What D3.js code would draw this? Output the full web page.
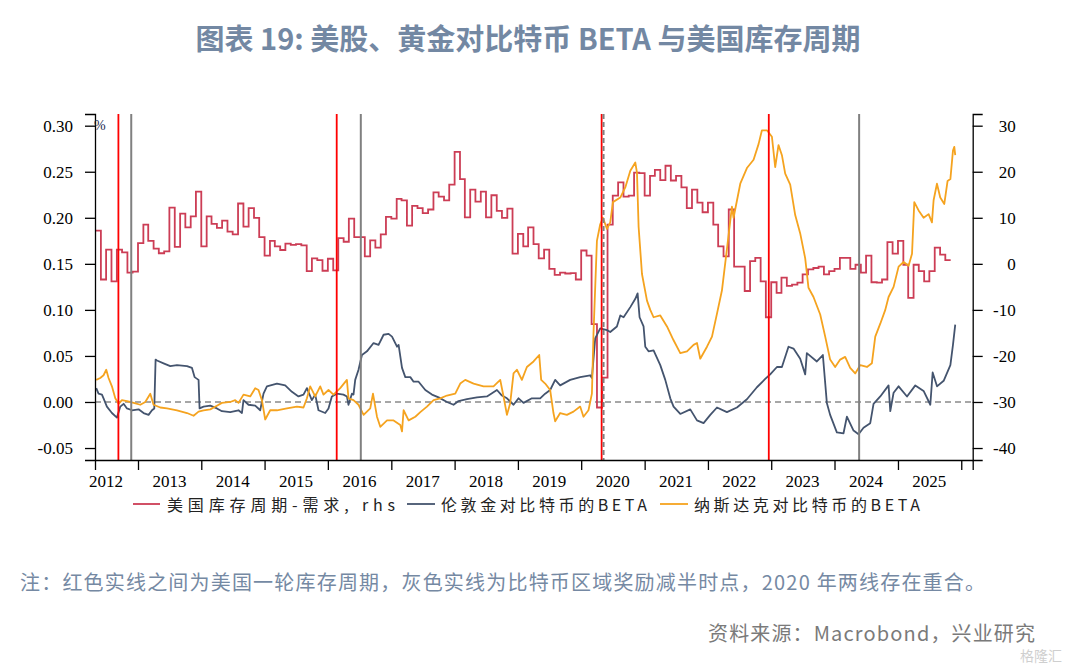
<!DOCTYPE html>
<html>
<head>
<meta charset="utf-8">
<script src="https://cdn.jsdelivr.net/npm/d3@7"></script>
<style>
  body { margin: 0; background: #fff; }
  text { font-family: "Noto Sans CJK SC", "Noto Sans", sans-serif; }
  .tick text, .year-label { font-family: "Liberation Serif", "DejaVu Serif", serif; font-size: 17px; fill: #000; }
</style>
</head>
<body>
<div id="chart"></div>
<script>
'use strict'

// US inventory cycle - demand (rhs), monthly, starting May 2012
const inventoryStart = "2012-05-01";
const inventoryDemand = [
    7.2, -3.4, 3.1, -3.8, 3.1, 2.5, -1.9, -1.7,
    4.5, 8.5, 5.0, 3.3, 2.3, 2.7, 12.2, 3.7, 10.9, 7.9, 10.3, 15.7,
    3.8, 10.3, 8.7, 7.8, 9.4, 7.0, 6.4, 13.1, 8.1, 12.1, 10.0, 5.8,
    1.8, 5.0, 3.8, 3.0, 4.4, 4.1, 4.3, 4.0, -1.6, 1.2, 0.8, -1.5,
    1.1, -1.4, 5.6, 4.8, 9.8, 5.8, 5.8, 1.6, 5.1, 3.5, 6.4, 10.2,
    9.8, 14.1, 13.8, 8.3, 12.6, 12.1, 11.0, 11.8, 15.5, 14.6, 13.8, 17.2,
    24.3, 18.4, 10.1, 16.1, 13.5, 15.7, 10.1, 14.9, 11.5, 10.0, 12.0, 2.2,
    6.5, 3.8, 7.9, 4.3, 1.2, 3.1, -1.1, -2.4, -1.9, -2.1, -2.0, -3.4,
    2.9, 1.8, -13.1, -31.2, -24.7, 8.5, 14.8, 17.7, 14.6, 14.8, 19.8, 19.7,
    14.8, 19.1, 20.4, 18.2, 21.3, 18.1, 19.1, 16.6, 12.1, 16.1, 13.3, 11.2,
    13.3, 8.5, 3.8, 1.6, 11.8, -0.6, -0.6, -5.9, 0.6, 1.3, -3.8, -11.6,
    -4.0, -6.3, -3.0, -4.8, -4.5, -4.1, -2.3, -1.2, -0.9, -0.6, -2.3, -1.6,
    -1.1, 1.3, 1.3, -1.1, -0.2, -1.9, 1.8, -4.0, -4.1, -3.4, 4.7, 2.2,
    5.0, -0.2, -7.4, -0.2, -1.6, -3.8, -1.6, 3.5, 2.0, 0.8
];

// London gold beta vs bitcoin: [decimal year, beta]
const goldBeta = [
    [2012.342, 0.015], [2012.378, 0.009], [2012.432, 0.008], [2012.457, 0.004], [2012.51, -0.005],
    [2012.589, -0.012], [2012.668, -0.017], [2012.721, -0.005], [2012.773, -0.002], [2012.826, -0.007],
    [2012.905, -0.009], [2013.009, -0.008], [2013.088, -0.012], [2013.167, -0.014], [2013.221, -0.009],
    [2013.257, -0.007], [2013.278, 0.046], [2013.30, 0.045], [2013.404, 0.042], [2013.51, 0.039],
    [2013.616, 0.040], [2013.774, 0.039], [2013.853, 0.037], [2013.894, 0.027], [2013.957, 0.024],
    [2013.973, -0.007], [2014.036, -0.005], [2014.142, -0.004], [2014.247, -0.007], [2014.326, -0.010],
    [2014.457, -0.011], [2014.588, -0.009], [2014.642, -0.012], [2014.667, 0.002], [2014.746, -0.003],
    [2014.852, -0.004], [2014.931, -0.009], [2014.983, 0.009], [2015.037, 0.017], [2015.195, 0.020],
    [2015.326, 0.018], [2015.432, 0.011], [2015.536, 0.006], [2015.615, 0.008], [2015.669, 0.015],
    [2015.747, 0.002], [2015.80, 0.008], [2015.852, -0.009], [2015.958, -0.012], [2016.01, -0.007],
    [2016.063, 0.006], [2016.142, 0.009], [2016.246, 0.008], [2016.30, 0.006], [2016.325, -0.003],
    [2016.379, 0.009], [2016.404, 0.008], [2016.431, 0.024], [2016.483, 0.035], [2016.537, 0.051],
    [2016.616, 0.055], [2016.72, 0.064], [2016.799, 0.062], [2016.878, 0.073], [2016.957, 0.074],
    [2017.011, 0.071], [2017.09, 0.060], [2017.115, 0.062], [2017.169, 0.037], [2017.221, 0.027],
    [2017.30, 0.027], [2017.352, 0.022], [2017.431, 0.022], [2017.537, 0.013], [2017.642, 0.008],
    [2017.747, 0.005], [2017.879, 0.000], [2017.983, -0.003], [2018.062, 0.001], [2018.195, 0.003],
    [2018.353, 0.005], [2018.511, 0.006], [2018.669, 0.013], [2018.748, 0.007], [2018.827, 0.004],
    [2018.931, -0.003], [2019.01, 0.004], [2019.089, -0.001], [2019.221, 0.004], [2019.352, 0.004],
    [2019.431, 0.009], [2019.51, 0.013], [2019.589, 0.024], [2019.668, 0.018], [2019.826, 0.024],
    [2019.984, 0.027], [2020.142, 0.029], [2020.169, 0.026], [2020.221, 0.069], [2020.30, 0.080],
    [2020.406, 0.078], [2020.458, 0.076], [2020.563, 0.082], [2020.616, 0.094], [2020.668, 0.092],
    [2020.774, 0.103], [2020.853, 0.112], [2020.889, 0.118], [2020.92, 0.092], [2020.983, 0.082],
    [2021.01, 0.060], [2021.062, 0.055], [2021.141, 0.056], [2021.247, 0.040], [2021.326, 0.024],
    [2021.405, 0.004], [2021.457, -0.005], [2021.563, -0.013], [2021.721, -0.008], [2021.827, -0.020],
    [2021.931, -0.023], [2022.037, -0.014], [2022.143, -0.006], [2022.30, -0.011], [2022.458, -0.006],
    [2022.616, 0.003], [2022.774, 0.016], [2022.905, 0.025], [2022.984, 0.030], [2023.09, 0.038],
    [2023.169, 0.038], [2023.273, 0.060], [2023.352, 0.058], [2023.458, 0.047], [2023.537, 0.030],
    [2023.563, 0.053], [2023.721, 0.044], [2023.816, 0.051], [2023.879, -0.001], [2023.931, -0.014],
    [2024.037, -0.033], [2024.142, -0.034], [2024.195, -0.016], [2024.30, -0.031], [2024.379, -0.035],
    [2024.457, -0.028], [2024.563, -0.023], [2024.615, -0.002], [2024.721, 0.006], [2024.852, 0.018],
    [2024.879, -0.010], [2024.931, 0.010], [2025.01, 0.017], [2025.143, 0.006], [2025.274, 0.018],
    [2025.405, 0.012], [2025.511, -0.003], [2025.548, 0.032], [2025.617, 0.017], [2025.722, 0.023],
    [2025.828, 0.040], [2025.869, 0.062], [2025.905, 0.084]
];

// Nasdaq beta vs bitcoin: [decimal year, beta]
const nasdaqBeta = [
    [2012.342, 0.024], [2012.405, 0.026], [2012.457, 0.029], [2012.50, 0.035], [2012.536, 0.026],
    [2012.589, 0.017], [2012.642, 0.004], [2012.694, -0.002], [2012.747, 0.002], [2012.826, 0.001],
    [2012.931, -0.001], [2013.036, -0.003], [2013.115, 0.000], [2013.194, 0.009], [2013.246, -0.003],
    [2013.352, -0.006], [2013.458, -0.007], [2013.616, -0.009], [2013.774, -0.012], [2013.878, -0.015],
    [2013.957, -0.0105], [2014.036, -0.009], [2014.142, -0.008], [2014.247, -0.004], [2014.326, -0.001],
    [2014.457, 0.000], [2014.536, 0.002], [2014.588, -0.001], [2014.667, 0.008], [2014.773, 0.006],
    [2014.852, 0.015], [2014.904, 0.013], [2014.958, 0.002], [2015.01, -0.019], [2015.089, -0.009],
    [2015.195, -0.009], [2015.353, -0.007], [2015.511, -0.005], [2015.615, -0.006], [2015.669, 0.004],
    [2015.721, 0.017], [2015.80, 0.006], [2015.879, 0.017], [2015.931, 0.008], [2016.01, 0.013],
    [2016.089, 0.008], [2016.195, 0.015], [2016.30, 0.024], [2016.325, 0.004], [2016.404, 0.002],
    [2016.483, -0.003], [2016.563, -0.014], [2016.668, -0.007], [2016.711, 0.009], [2016.774, -0.016],
    [2016.826, -0.027], [2016.932, -0.020], [2017.036, -0.020], [2017.142, -0.025], [2017.169, -0.032],
    [2017.194, -0.009], [2017.273, -0.020], [2017.379, -0.016], [2017.458, -0.011], [2017.563, -0.005],
    [2017.668, 0.002], [2017.773, 0.004], [2017.879, 0.007], [2018.01, 0.009], [2018.089, 0.020],
    [2018.168, 0.024], [2018.30, 0.020], [2018.457, 0.017], [2018.615, 0.017], [2018.721, 0.024],
    [2018.773, 0.006], [2018.827, -0.014], [2018.879, -0.001], [2018.931, 0.031], [2018.984, 0.035],
    [2019.063, 0.024], [2019.142, 0.038], [2019.247, 0.044], [2019.337, 0.051], [2019.368, 0.024],
    [2019.431, 0.020], [2019.51, 0.013], [2019.562, -0.012], [2019.589, -0.021], [2019.668, -0.012],
    [2019.774, -0.014], [2019.878, -0.0105], [2019.984, -0.005], [2020.036, -0.016], [2020.115, -0.009],
    [2020.169, 0.009], [2020.194, 0.074], [2020.248, 0.175], [2020.30, 0.193], [2020.342, 0.200],
    [2020.406, 0.188], [2020.458, 0.195], [2020.50, 0.217], [2020.616, 0.222], [2020.695, 0.233],
    [2020.774, 0.251], [2020.853, 0.260], [2020.879, 0.249], [2020.905, 0.190], [2020.958, 0.139],
    [2021.037, 0.110], [2021.089, 0.100], [2021.141, 0.092], [2021.247, 0.094], [2021.353, 0.082],
    [2021.457, 0.067], [2021.563, 0.053], [2021.669, 0.055], [2021.773, 0.062], [2021.827, 0.064],
    [2021.879, 0.047], [2021.985, 0.060], [2022.064, 0.071], [2022.143, 0.096], [2022.221, 0.121],
    [2022.30, 0.166], [2022.379, 0.212], [2022.405, 0.200], [2022.511, 0.237], [2022.616, 0.254],
    [2022.721, 0.263], [2022.80, 0.280], [2022.853, 0.295], [2022.932, 0.295], [2023.011, 0.288],
    [2023.063, 0.255], [2023.115, 0.279], [2023.169, 0.268], [2023.221, 0.248], [2023.30, 0.236],
    [2023.379, 0.203], [2023.458, 0.183], [2023.537, 0.156], [2023.589, 0.124], [2023.668, 0.114],
    [2023.774, 0.095], [2023.853, 0.071], [2023.931, 0.046], [2024.01, 0.038], [2024.089, 0.046],
    [2024.168, 0.049], [2024.247, 0.037], [2024.326, 0.031], [2024.405, 0.040], [2024.511, 0.038],
    [2024.589, 0.042], [2024.642, 0.071], [2024.721, 0.085], [2024.80, 0.100], [2024.852, 0.114],
    [2024.931, 0.125], [2025.01, 0.147], [2025.089, 0.152], [2025.168, 0.148], [2025.222, 0.161],
    [2025.258, 0.217], [2025.326, 0.208], [2025.405, 0.200], [2025.484, 0.204], [2025.537, 0.195],
    [2025.563, 0.219], [2025.616, 0.237], [2025.668, 0.222], [2025.732, 0.215], [2025.784, 0.240],
    [2025.828, 0.242], [2025.869, 0.273], [2025.89, 0.277], [2025.905, 0.268]
];

// vertical markers: inventory cycle bounds (red) and bitcoin halvings (grey)
const cycleDates = ["2012-09-10", "2016-02-21", "2020-04-28", "2022-12-18"];
const halvingDates = ["2012-11-23", "2016-07-09", "2020-05-09", "2024-05-22"];

const yearLabels = ["2012", "2013", "2014", "2015", "2016", "2017", "2018",
    "2019", "2020", "2021", "2022", "2023", "2024", "2025"];
const leftTicks = [0.30, 0.25, 0.20, 0.15, 0.10, 0.05, 0.00, -0.05];
const rightTicks = [30, 20, 10, 0, -10, -20, -30, -40];

const legendItems = [
    { label: "美国库存周期-需求, rhs", color: "#cc3d55" },
    { label: "伦敦金对比特币的BETA", color: "#44546e" },
    { label: "纳斯达克对比特币的BETA", color: "#f5a31f" }
];

function fromDecimal(t) {
    const y = Math.floor(t);
    const a = new Date(y, 0, 1), b = new Date(y + 1, 0, 1);
    return new Date(+a + (t - y) * (b - a));
}

const width = 1067;
const height = 667;
const plot = { left: 95, right: 972.7, top: 114, bottom: 460 };

const svg = d3.select("#chart")
    .append("svg")
    .attr("width", width)
    .attr("height", height);

const x = d3.scaleTime()
    .domain([new Date(2012, 3, 28), new Date(2026, 2, 8)])
    .range([plot.left, plot.right]);

const yLeft = d3.scaleLinear()
    .domain([-0.063, 0.3127])
    .range([plot.bottom, plot.top]);

const yRight = d3.scaleLinear()
    .domain([-42.6, 32.54])
    .range([plot.bottom, plot.top]);

// Title
svg.append("text")
    .attr("x", 528)
    .attr("y", 50)
    .attr("text-anchor", "middle")
    .style("font-size", "29px")
    .style("font-weight", "bold")
    .style("fill", "#7388a3")
    .text("图表 19: 美股、黄金对比特币 BETA 与美国库存周期");

// zero reference line
svg.append("line")
    .attr("x1", plot.left)
    .attr("x2", plot.right)
    .attr("y1", yLeft(0))
    .attr("y2", yLeft(0))
    .attr("stroke", "#8a8a8a")
    .attr("stroke-width", 1.6)
    .attr("stroke-dasharray", "6,4");

// Series
const months = inventoryDemand.map((v, i) => ({ date: d3.timeMonth.offset(new Date(inventoryStart + "T00:00"), i), value: v }));
months.push({ date: d3.timeMonth.offset(months[months.length - 1].date, 1), value: inventoryDemand[inventoryDemand.length - 1] });

const stepLine = d3.line()
    .x(d => x(d.date))
    .y(d => yRight(d.value))
    .curve(d3.curveStepAfter);

svg.append("path")
    .datum(months)
    .attr("d", stepLine)
    .attr("fill", "none")
    .attr("stroke", legendItems[0].color)
    .attr("stroke-width", 1.8);

const betaLine = d3.line()
    .x(d => x(fromDecimal(d[0])))
    .y(d => yLeft(d[1]));

svg.append("path")
    .datum(goldBeta)
    .attr("d", betaLine)
    .attr("fill", "none")
    .attr("stroke", legendItems[1].color)
    .attr("stroke-width", 1.8)
    .attr("stroke-linejoin", "round");

svg.append("path")
    .datum(nasdaqBeta)
    .attr("d", betaLine)
    .attr("fill", "none")
    .attr("stroke", legendItems[2].color)
    .attr("stroke-width", 1.8)
    .attr("stroke-linejoin", "round");

// Marker lines
svg.selectAll(".cycle")
    .data(cycleDates)
    .enter().append("line")
    .attr("x1", d => x(new Date(d + "T00:00")))
    .attr("x2", d => x(new Date(d + "T00:00")))
    .attr("y1", plot.top)
    .attr("y2", plot.bottom)
    .attr("stroke", "#ff0000")
    .attr("stroke-width", 1.8);

svg.selectAll(".halving")
    .data(halvingDates)
    .enter().append("line")
    .attr("x1", d => x(new Date(d + "T00:00")))
    .attr("x2", d => x(new Date(d + "T00:00")))
    .attr("y1", plot.top)
    .attr("y2", plot.bottom)
    .attr("stroke", "#808080")
    .attr("stroke-width", 2)
    .attr("stroke-dasharray", d => d.startsWith("2020") ? "5,3" : null);

// Axes
svg.append("g")
    .attr("transform", `translate(${plot.left},0)`)
    .call(d3.axisLeft(yLeft).tickValues(leftTicks).tickSize(10).tickPadding(12)
        .tickFormat(d => d.toFixed(2)));

const rightAxis = svg.append("g")
    .attr("transform", `translate(${plot.right},0)`)
    .call(d3.axisRight(yRight).tickValues(rightTicks).tickSize(10).tickFormat(d => String(d)));
rightAxis.selectAll("text")
    .attr("x", 43)
    .style("text-anchor", "end");

const yearTicks = d3.range(2013, 2027).map(y => new Date(y, 0, 1));
const bottomAxis = svg.append("g")
    .attr("transform", `translate(0,${plot.bottom})`)
    .call(d3.axisBottom(x).tickValues(yearTicks).tickSize(10));
bottomAxis.selectAll("text").remove();

// year labels sit between the year ticks
svg.append("g")
    .selectAll("text")
    .data(yearLabels)
    .enter().append("text")
    .attr("class", "year-label")
    .attr("x", d => x(new Date(+d, 6, 1)))
    .attr("y", 487)
    .attr("text-anchor", "middle")
    .text(d => d);

svg.selectAll(".domain")
    .attr("stroke", "#000")
    .attr("stroke-width", 1.3);
svg.selectAll(".tick line")
    .attr("stroke", "#000")
    .attr("stroke-width", 1.3);

svg.append("text")
    .attr("x", 94)
    .attr("y", 130)
    .style("font-family", "Liberation Serif, serif")
    .style("font-size", "14px")
    .style("fill", "#1a2a50")
    .text("%");

// Legend
const legendPos = [
    { x1: 133, x2: 160, tx: 167, w: 228 },
    { x1: 407, x2: 435, tx: 441, w: 206 },
    { x1: 660, x2: 688, tx: 694, w: 226 }
];
const legend = svg.selectAll(".legend")
    .data(legendItems)
    .enter().append("g")
    .attr("class", "legend");

legend.append("line")
    .attr("x1", (d, i) => legendPos[i].x1)
    .attr("x2", (d, i) => legendPos[i].x2)
    .attr("y1", 504)
    .attr("y2", 504)
    .attr("stroke", d => d.color)
    .attr("stroke-width", 1.8);

legend.append("text")
    .attr("x", (d, i) => legendPos[i].tx)
    .attr("y", 511)
    .attr("textLength", (d, i) => legendPos[i].w)
    .attr("lengthAdjust", "spacing")
    .style("font-size", "16px")
    .style("fill", "#222")
    .text(d => d.label);

// Notes
svg.append("text")
    .attr("x", 20)
    .attr("y", 590)
    .attr("textLength", 965)
    .attr("lengthAdjust", "spacing")
    .style("font-size", "20px")
    .style("fill", "#7589a3")
    .text("注：红色实线之间为美国一轮库存周期，灰色实线为比特币区域奖励减半时点，2020 年两线存在重合。");

svg.append("text")
    .attr("x", 708)
    .attr("y", 641)
    .attr("textLength", 327)
    .attr("lengthAdjust", "spacing")
    .style("font-size", "20px")
    .style("fill", "#7a7a7a")
    .text("资料来源：Macrobond，兴业研究");

svg.append("text")
    .attr("x", 1062)
    .attr("y", 661)
    .attr("text-anchor", "end")
    .style("font-size", "14px")
    .style("fill", "#cfcfcf")
    .text("格隆汇");
</script>
</body>
</html>
